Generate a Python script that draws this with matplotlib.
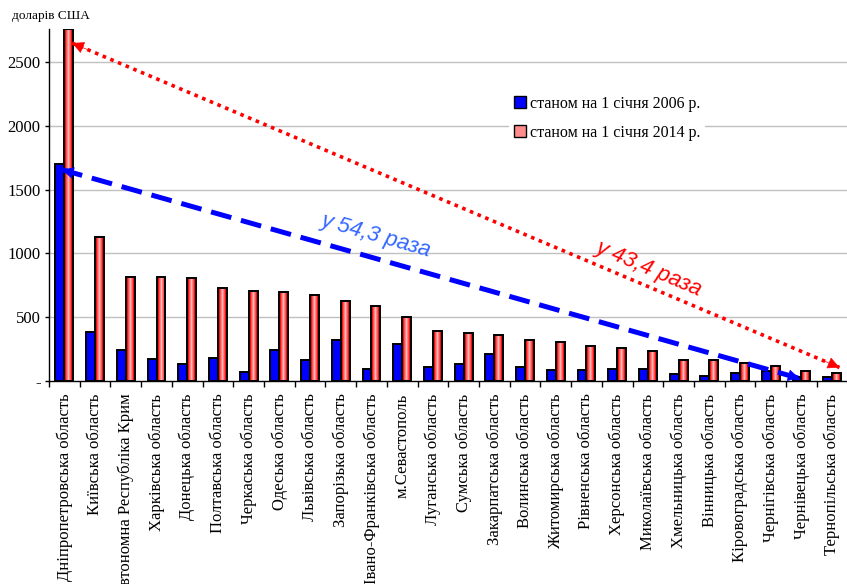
import numpy as np
import matplotlib
matplotlib.use("Agg")
import matplotlib.pyplot as plt
from matplotlib.colors import LinearSegmentedColormap
from matplotlib.patches import Patch
from matplotlib.ticker import FixedLocator, FuncFormatter

regions = [
    "Дніпропетровська область", "Київська область", "Автономна Республіка Крим",
    "Харківська область", "Донецька область", "Полтавська область",
    "Черкаська область", "Одеська область", "Львівська область",
    "Запорізька область", "Івано-Франківська область", "м.Севастополь",
    "Луганська область", "Сумська область", "Закарпатська область",
    "Волинська область", "Житомирська область", "Рівненська область",
    "Херсонська область", "Миколаївська область", "Хмельницька область",
    "Вінницька область", "Кіровоградська область", "Чернігівська область",
    "Чернівецька область", "Тернопільська область",
]
fdi_2006 = [1698, 381, 245, 169, 130, 179, 69, 245, 161, 318, 96, 292, 108,
            130, 208, 108, 90, 90, 96, 96, 51, 43, 64, 82, 32, 31]
fdi_2014 = [2757, 1130, 818, 813, 805, 727, 703, 701, 677, 630, 591, 501, 389,
            376, 357, 324, 305, 273, 261, 237, 166, 166, 143, 116, 75, 64]
series_labels = ["станом на 1 січня 2006 р.", "станом на 1 січня 2014 р."]
ratio_2006 = "у 54,3 раза"
ratio_2014 = "у 43,4 раза"
y_ticks = [0, 500, 1000, 1500, 2000, 2500]
unit_label = "доларів США"

serif = ["Liberation Serif", "DejaVu Serif"]
sans = ["Liberation Sans", "DejaVu Sans"]

fig = plt.figure(figsize=(8.47, 5.84), dpi=100)
ax = fig.add_axes([0.0579, 0.3476, 0.9427, 0.6027])

n = len(regions)
x = np.arange(n)
w = 0.29
ax.set_xlim(-0.5, n - 0.5)
ax.set_ylim(0, 2760)

# horizontal grid
for t in y_ticks[1:]:
    ax.axhline(t, color="#c0c0c0", lw=1.0, zorder=0)

blue_bars = ax.bar(x - w / 2, fdi_2006, width=w, color="#0000ff",
                   edgecolor="black", linewidth=1.4, zorder=2)
red_bars = ax.bar(x + w / 2, fdi_2014, width=w, color="none",
                  edgecolor="black", linewidth=1.4, zorder=3)

# red bars get a horizontal red-pink-red gradient
grad_cmap = LinearSegmentedColormap.from_list(
    "rg", [(0.0, "#f00000"), (0.2, "#ff2020"), (0.5, "#ffb8b8"),
           (0.8, "#ff2020"), (1.0, "#f00000")])
grad = np.linspace(0, 1, 11).reshape(1, -1)
for b in red_bars:
    x0 = b.get_x()
    ax.imshow(grad, extent=[x0, x0 + b.get_width(), 0, b.get_height()],
              aspect="auto", cmap=grad_cmap, zorder=2.5,
              interpolation="nearest")
ax.set_xlim(-0.5, n - 0.5)
ax.set_ylim(0, 2760)

# axes styling
for s in ["top", "right"]:
    ax.spines[s].set_visible(False)
ax.spines["left"].set_linewidth(1.0)
ax.spines["bottom"].set_linewidth(1.0)

ax.yaxis.set_major_locator(FixedLocator(y_ticks))
ax.yaxis.set_major_formatter(FuncFormatter(lambda v, p: "-" if v == 0 else f"{int(v)}"))
ax.tick_params(axis="y", length=3, width=1, direction="out", pad=3)
for lbl in ax.get_yticklabels():
    lbl.set_fontfamily(serif)
    lbl.set_fontsize(12)

ax.set_xticks(x)
ax.set_xticklabels(regions, rotation=90, fontsize=12, family=serif,
                   ha="center", va="top")
ax.xaxis.set_minor_locator(FixedLocator(np.arange(-0.5, n, 1.0)))
ax.tick_params(axis="x", which="major", length=0, pad=9)
ax.tick_params(axis="x", which="minor", length=4, width=1, direction="out")

fig.text(0.014, 1 - 16 / 584, unit_label, fontsize=9.5, family=serif,
         ha="left", va="center")

# legend
handles = [Patch(facecolor="#0000ff", edgecolor="black", linewidth=1.0),
           Patch(facecolor="#ff8c8c", edgecolor="black", linewidth=1.0)]
leg = fig.legend(handles, series_labels, loc="upper left",
                 bbox_to_anchor=(509 / 847, 1 - 91 / 584),
                 prop={"family": serif, "size": 11.5}, frameon=True,
                 handlelength=0.75, handleheight=0.75, handletextpad=0.25,
                 labelspacing=0.8, borderpad=0.3, borderaxespad=0.0)
leg.get_frame().set_edgecolor("none")
leg.get_frame().set_facecolor("white")
leg.get_frame().set_alpha(1.0)


def double_arrow(p0, p1, color, lw, ls, head):
    ax.plot([p0[0], p1[0]], [p0[1], p1[1]], color=color, lw=lw,
            linestyle=ls, zorder=5, solid_capstyle="butt")
    for tip, other in ((p0, p1), (p1, p0)):
        tail = (tip[0] + (other[0] - tip[0]) * 0.02,
                tip[1] + (other[1] - tip[1]) * 0.02)
        ax.annotate("", xy=tip, xytext=tail, zorder=6,
                    arrowprops=dict(arrowstyle="-|>", color=color, lw=0.5,
                                    mutation_scale=head, shrinkA=0, shrinkB=0))


# ratio arrows between the largest and smallest regions
double_arrow((0.25, 2650), (25.24, 106), "#ff0000", 2.6, (0, (1, 1.3)), 19)
double_arrow((-0.08, 1657), (23.94, 20), "#0000ff", 3.6, (0, (4.2, 2.0)), 19)

ax.text(10.14, 1143, ratio_2006, color="#3366ff", fontsize=16, style="italic",
        family=sans, rotation=-16, ha="center", va="center",
        rotation_mode="anchor", zorder=7)
ax.text(19.02, 884, ratio_2014, color="#ff0000", fontsize=16, style="italic",
        family=sans, rotation=-23, ha="center", va="center",
        rotation_mode="anchor", zorder=7)

fig.savefig("out.png", dpi=100)
